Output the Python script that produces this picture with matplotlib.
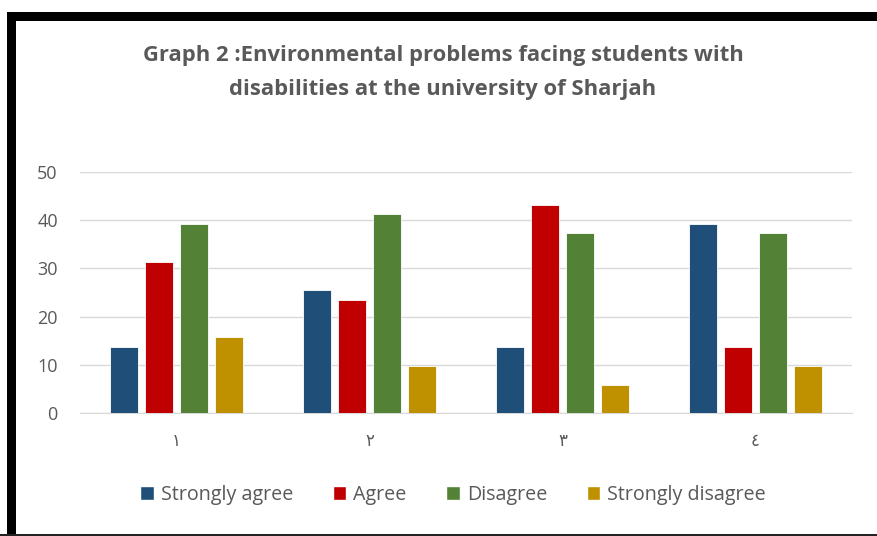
import matplotlib.pyplot as plt
from matplotlib.patches import Rectangle, Patch
import numpy as np

plt.rcParams['font.family'] = ['Open Sans', 'DejaVu Sans']

categories = ['١', '٢', '٣', '٤']
series = ['Strongly agree', 'Agree', 'Disagree', 'Strongly disagree']
strongly_agree = [13.7, 25.5, 13.7, 39.2]
agree = [31.4, 23.5, 43.1, 13.7]
disagree = [39.2, 41.2, 37.3, 37.3]
strongly_disagree = [15.7, 9.8, 5.9, 9.8]
colors = ['#1F4E79', '#C00000', '#538135', '#BF9000']

W, H = 877, 536
fig = plt.figure(figsize=(W / 100, H / 100), dpi=100)
fig.patch.set_facecolor('white')

ax = fig.add_axes([80 / W, 1 - 413 / H, 772 / W, 241 / H])

x = np.arange(len(categories))
bw = 0.143
step = 0.181
data = [strongly_agree, agree, disagree, strongly_disagree]
for i, vals in enumerate(data):
    ax.bar(x + (i - 1.5) * step, vals, width=bw, color=colors[i],
           edgecolor='white', linewidth=0.6, label=series[i], zorder=3)

ax.set_xlim(-0.5, 3.5)
ax.set_ylim(0, 50)
ax.set_yticks([0, 10, 20, 30, 40, 50])
ax.grid(axis='y', color='#d9d9d9', linewidth=1, zorder=0)
for s in ['top', 'right', 'left']:
    ax.spines[s].set_visible(False)
ax.spines['bottom'].set_color('#d9d9d9')
ax.tick_params(axis='y', length=0, pad=16, labelsize=13, labelcolor='#595959')
ax.tick_params(axis='x', length=0, pad=14, labelsize=12, labelcolor='#595959')
ax.set_xticks(x)
ax.set_xticklabels(categories, family=['DejaVu Sans'])

fig.text(443 / W, 1 - 56 / H, 'Graph 2 :Environmental problems facing students with',
         ha='center', va='center', fontsize=15.8, fontweight='bold', color='#595959')
fig.text(443 / W, 1 - 89 / H, 'disabilities at the university of Sharjah',
         ha='center', va='center', fontsize=15.8, fontweight='bold', color='#595959')

handles = [Patch(facecolor=c, edgecolor='white') for c in colors]
fig.legend(handles, series, loc='center', bbox_to_anchor=(453 / W, 1 - 495 / H),
           ncol=4, frameon=False, fontsize=14.2, labelcolor='#595959',
           handlelength=0.7, handleheight=0.7, handletextpad=0.35, columnspacing=2.0)

# screenshot frame
fig.patches.append(Rectangle((7 / W, 0), 9 / W, 1 - 12 / H, transform=fig.transFigure,
                             facecolor='black', edgecolor='none'))
fig.patches.append(Rectangle((7 / W, 1 - 21 / H), 1, 9 / H, transform=fig.transFigure,
                             facecolor='black', edgecolor='none'))
fig.patches.append(Rectangle((0, 0), 1, 2 / H, transform=fig.transFigure,
                             facecolor='#222222', edgecolor='none'))

fig.savefig('out.png', dpi=100)
